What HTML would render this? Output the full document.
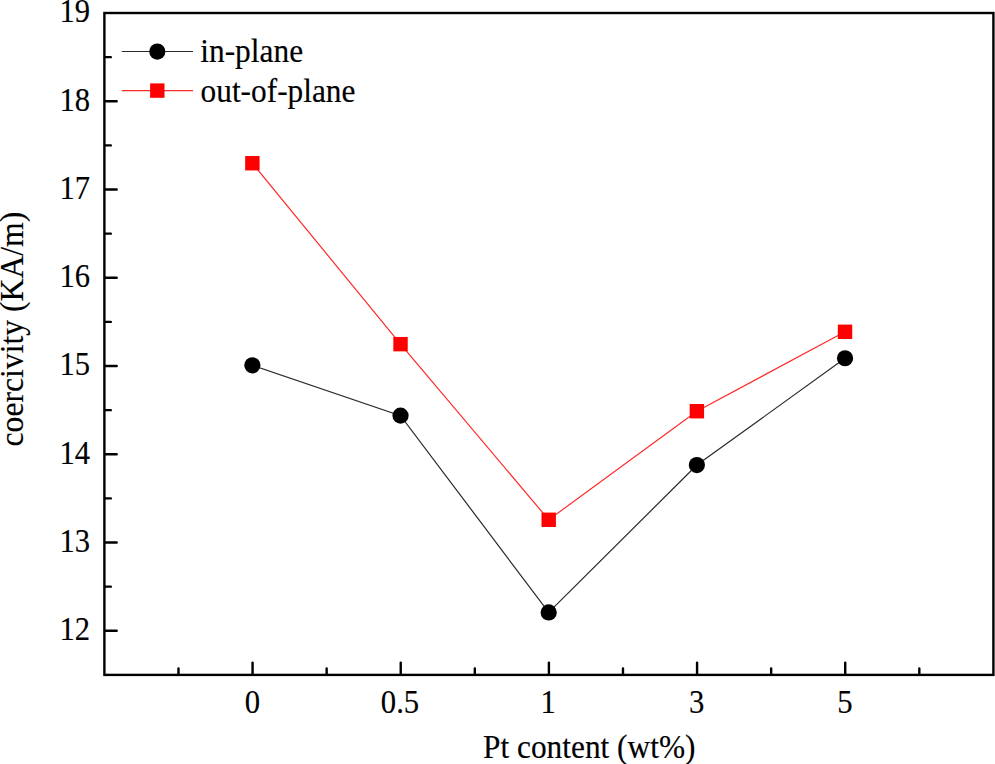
<!DOCTYPE html>
<html><head><meta charset="utf-8"><style>
html,body{margin:0;padding:0;background:#fff;overflow:hidden}
svg{display:block}
text{font-family:"Liberation Serif",serif}
</style></head><body>
<svg width="995" height="764" viewBox="0 0 995 764" xmlns="http://www.w3.org/2000/svg">
<path d="M105.40 630.77h11.3 M105.40 542.52h11.3 M105.40 454.27h11.3 M105.40 366.01h11.3 M105.40 277.76h11.3 M105.40 189.51h11.3 M105.40 101.25h11.3 M105.40 586.65h5.4 M105.40 498.39h5.4 M105.40 410.14h5.4 M105.40 321.89h5.4 M105.40 233.63h5.4 M105.40 145.38h5.4 M105.40 57.13h5.4 M252.57 673.90v-11.3 M400.73 673.90v-11.3 M548.90 673.90v-11.3 M697.07 673.90v-11.3 M845.23 673.90v-11.3 M178.48 673.90v-5.4 M326.65 673.90v-5.4 M474.82 673.90v-5.4 M622.98 673.90v-5.4 M771.15 673.90v-5.4 M919.32 673.90v-5.4" stroke="#000" stroke-width="2.4" stroke-linecap="round" fill="none"/>
<rect x="104.40" y="13.00" width="889.00" height="661.90" stroke="#000" stroke-width="2.4" fill="none"/>
<polyline points="252.37,365.33 400.53,415.64 548.70,612.44 696.87,465.06 845.03,358.27" stroke="#2a2a2a" stroke-width="1.2" fill="none"/>
<polyline points="252.37,163.23 400.53,344.15 548.70,519.77 696.87,411.22 845.03,331.79" stroke="#ff2a2a" stroke-width="1.2" fill="none"/>
<circle cx="252.37" cy="365.33" r="8.1" fill="#000"/>
<circle cx="400.53" cy="415.64" r="8.1" fill="#000"/>
<circle cx="548.70" cy="612.44" r="8.1" fill="#000"/>
<circle cx="696.87" cy="465.06" r="8.1" fill="#000"/>
<circle cx="845.03" cy="358.27" r="8.1" fill="#000"/>
<rect x="245.17" y="156.03" width="14.4" height="14.4" fill="#f00"/>
<rect x="393.33" y="336.95" width="14.4" height="14.4" fill="#f00"/>
<rect x="541.50" y="512.57" width="14.4" height="14.4" fill="#f00"/>
<rect x="689.67" y="404.02" width="14.4" height="14.4" fill="#f00"/>
<rect x="837.83" y="324.59" width="14.4" height="14.4" fill="#f00"/>
<path d="M121.8 51.45H193.0" stroke="#2a2a2a" stroke-width="1.1"/>
<circle cx="157.3" cy="51.6" r="8.1" fill="#000"/>
<path d="M121.8 90.6H193.0" stroke="#ff2a2a" stroke-width="1.1"/>
<rect x="150.10" y="83.40" width="14.4" height="14.4" fill="#f00"/>
<g font-family="Liberation Serif, serif" font-size="32" fill="#000" stroke="#000" stroke-width="0.15"><text transform="translate(200.21 62.20) scale(0.982 1.03)">in-plane</text><text transform="translate(200.61 101.70) scale(0.979 1.03)">out-of-plane</text><text transform="translate(90.00 640.07) scale(0.955 1.03)" text-anchor="end">12</text><text transform="translate(90.00 551.82) scale(0.955 1.03)" text-anchor="end">13</text><text transform="translate(90.00 463.57) scale(0.955 1.03)" text-anchor="end">14</text><text transform="translate(90.00 375.31) scale(0.955 1.03)" text-anchor="end">15</text><text transform="translate(90.00 287.06) scale(0.955 1.03)" text-anchor="end">16</text><text transform="translate(90.00 198.81) scale(0.955 1.03)" text-anchor="end">17</text><text transform="translate(90.00 110.55) scale(0.955 1.03)" text-anchor="end">18</text><text transform="translate(90.00 22.30) scale(0.955 1.03)" text-anchor="end">19</text><text transform="translate(252.47 713.00) scale(0.96 1.03)" text-anchor="middle">0</text><text transform="translate(400.03 713.00) scale(0.96 1.03)" text-anchor="middle">0.5</text><text transform="translate(548.10 713.00) scale(0.96 1.03)" text-anchor="middle">1</text><text transform="translate(696.67 713.00) scale(0.96 1.03)" text-anchor="middle">3</text><text transform="translate(844.93 713.00) scale(0.96 1.03)" text-anchor="middle">5</text><text transform="translate(589.25 757.60) scale(0.98 1.03)" text-anchor="middle">Pt content (wt%)</text><text transform="translate(22.70 329.10) rotate(-90) scale(0.99 1.03)" text-anchor="middle">coercivity (KA/m)</text></g>
</svg>
</body></html>
